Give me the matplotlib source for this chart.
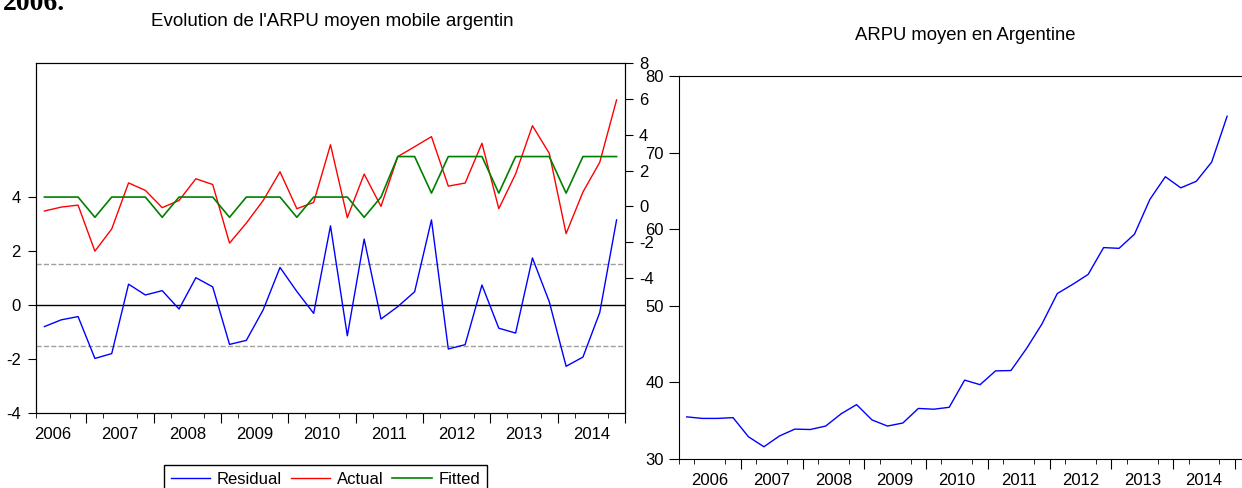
import numpy as np
import matplotlib.pyplot as plt

plt.rcParams['font.family'] = ['Liberation Sans', 'DejaVu Sans']
plt.rcParams['font.size'] = 12
plt.rcParams['axes.unicode_minus'] = False

# donnees (trimestriel)
annees = ["2006", "2007", "2008", "2009", "2010", "2011", "2012", "2013", "2014"]

# 2006T2 - 2014T4
residual = [-0.80, -0.55, -0.43, -1.98, -1.80, 0.77, 0.37, 0.53, -0.15, 1.01,
            0.67, -1.46, -1.31, -0.18, 1.39, 0.50, -0.31, 2.93, -1.14, 2.44,
            -0.52, -0.06, 0.49, 3.15, -1.63, -1.47, 0.74, -0.86, -1.04, 1.74,
            0.12, -2.27, -1.93, -0.28, 3.15]
actual = [-0.26, -0.04, 0.07, -2.50, -1.26, 1.31, 0.89, -0.07, 0.33, 1.54,
          1.22, -2.05, -0.93, 0.33, 1.93, -0.13, 0.22, 3.44, -0.63, 1.80,
          0.00, 2.78, 3.33, 3.89, 1.13, 1.30, 3.52, -0.13, 1.81, 4.50,
          2.96, -1.52, 0.80, 2.46, 5.94]
fitted = [0.52, 0.52, 0.52, -0.61, 0.52, 0.52, 0.52, -0.61, 0.52, 0.52,
          0.52, -0.61, 0.52, 0.52, 0.52, -0.61, 0.52, 0.52, 0.52, -0.61,
          0.52, 2.78, 2.78, 0.74, 2.78, 2.78, 2.78, 0.74, 2.78, 2.78,
          2.78, 0.74, 2.78, 2.78, 2.78]
ecart_type = 1.52

# 2006T1 - 2014T4
arpu = [35.5, 35.3, 35.3, 35.4, 32.9, 31.6, 33.0, 33.9, 33.85, 34.3,
        35.9, 37.1, 35.1, 34.3, 34.7, 36.6, 36.5, 36.75, 40.3, 39.7,
        41.5, 41.55, 44.4, 47.6, 51.6, 52.8, 54.1, 57.6, 57.5, 59.35,
        63.9, 66.85, 65.4, 66.25, 68.76, 74.75]

W, H = 1242, 488
fig = plt.figure(figsize=(W / 100, H / 100), dpi=100)


def axes_px(g, h, d, b):
    return fig.add_axes([g / W, 1 - b / H, (d - g) / W, (b - h) / H])


def axe_annees(ax, debut, n_trim, xmax):
    # trimestres en petits traits, annees en grands traits, libelle au centre
    ax.set_xlim(0, xmax)
    ax.set_xticks(np.arange(debut + 2, debut + 4 * len(annees), 4))
    ax.set_xticklabels(annees)
    ax.set_xticks(np.arange(0, n_trim + 1), minor=True)
    ax.tick_params(axis='x', which='major', length=0, pad=10)
    ax.tick_params(axis='x', which='minor', length=3.5, direction='out')
    sec = ax.secondary_xaxis('bottom')
    sec.set_xticks(np.arange(debut + 4, n_trim + 1, 4))
    sec.set_xticklabels([])
    sec.tick_params(length=7, direction='out')
    sec.spines['bottom'].set_visible(False)


# --- graphique de gauche : residus / reel / ajuste
ax = axes_px(36, 63, 625, 413)
ax2 = ax.twinx()
x_g = np.arange(len(residual)) + 0.5
ax.axhline(0, color='black', lw=1)
ax.axhline(ecart_type, color='#a0a0a0', ls='--', lw=1)
ax.axhline(-ecart_type, color='#a0a0a0', ls='--', lw=1)
l1, = ax.plot(x_g, residual, color='blue', lw=1)
l2, = ax2.plot(x_g, actual, color='red', lw=1)
l3, = ax2.plot(x_g, fitted, color='green', lw=1.2)
ax.set_ylim(-4, 8.96)
ax.set_yticks([-4, -2, 0, 2, 4])
ax2.set_ylim(-11.53, 8)
ax2.set_yticks([-4, -2, 0, 2, 4, 6, 8])
ax.tick_params(axis='y', length=6, pad=5)
ax2.tick_params(axis='y', length=6, pad=4)
axe_annees(ax, -1, len(residual), len(residual))
fig.text(332 / W, 1 - 22 / H, "Evolution de l'ARPU moyen mobile argentin",
         ha='center', va='center', fontsize=13.5)

fig.legend([l1, l2, l3], ["Residual", "Actual", "Fitted"], ncol=3,
           loc='upper left', bbox_to_anchor=(164 / W, 1 - 465 / H),
           frameon=True, fancybox=False, edgecolor='black', framealpha=1,
           handlelength=2.35, handletextpad=0.4, columnspacing=0.55,
           borderpad=0.4, borderaxespad=0)

# --- graphique de droite : ARPU
ax3 = axes_px(679, 76, 1244, 459)
x_d = np.arange(len(arpu)) + 0.5
ax3.plot(x_d, arpu, color='blue', lw=1)
ax3.set_ylim(30, 80)
ax3.set_yticks([30, 40, 50, 60, 70, 80])
ax3.tick_params(axis='y', length=7, pad=4)
axe_annees(ax3, 0, len(arpu), 565 / 15.44)
fig.text(965 / W, 1 - 36 / H, "ARPU moyen en Argentine",
         ha='center', va='center', fontsize=13.3)

# reste du texte du document au-dessus, coupe par le bord
fig.text(0.002, 1 - 10 / H, "2006.", fontsize=20, fontweight='bold',
         family='Liberation Serif', va='baseline')

fig.savefig("out.png", dpi=100)
